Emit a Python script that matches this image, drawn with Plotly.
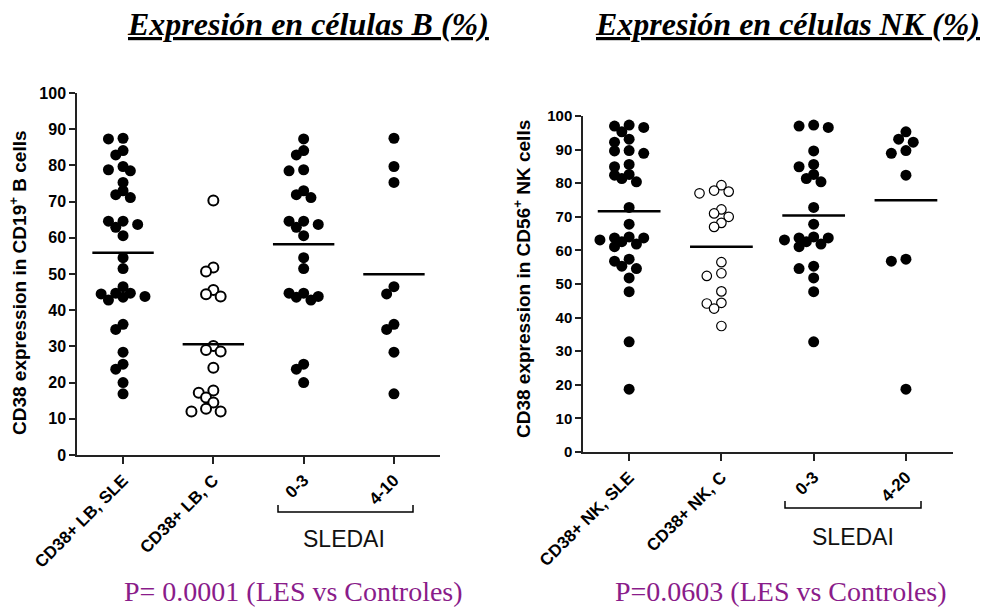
import plotly.graph_objects as go

# ---------------- data ----------------
B_CATEGORIES = ["CD38+ LB, SLE", "CD38+ LB, C", "0-3", "4-10"]
NK_CATEGORIES = ["CD38+ NK, SLE", "CD38+ NK, C", "0-3", "4-20"]
Y_TICKS = [0, 10, 20, 30, 40, 50, 60, 70, 80, 90, 100]

B_SLEDAI_LOW = [87.3, 84.1, 82.9, 78.8, 78.5, 73.0, 71.9, 71.1, 64.6, 64.6, 63.7, 62.9,
                60.6, 54.5, 51.5, 44.7, 44.7, 43.8, 43.6, 42.8, 25.1, 23.7, 20.0]
B_SLEDAI_HIGH = [87.5, 79.7, 75.3, 46.5, 44.5, 36.1, 34.7, 28.4, 16.9]
B_SLE = B_SLEDAI_LOW + B_SLEDAI_HIGH
B_CONTROL = [70.3, 51.8, 50.7, 45.6, 44.4, 43.8, 30.1, 29.0, 28.6, 24.1, 17.8, 17.2,
             15.9, 14.5, 12.8, 12.0, 12.0]

NK_SLEDAI_LOW = [97.3, 97.0, 96.6, 89.6, 85.6, 84.9, 82.6, 81.4, 80.4, 72.8, 67.8, 64.0,
                 63.7, 63.7, 63.1, 62.6, 61.9, 61.1, 55.3, 54.6, 51.8, 47.7, 32.8]
NK_SLEDAI_HIGH = [95.3, 93.1, 92.2, 89.7, 88.9, 82.4, 57.4, 56.8, 18.7]
NK_SLE = NK_SLEDAI_LOW + NK_SLEDAI_HIGH
NK_CONTROL = [79.4, 77.8, 77.5, 77.0, 72.2, 71.0, 70.0, 68.2, 67.0, 56.5, 53.2, 52.4,
              47.8, 44.4, 44.2, 42.7, 37.5]

B_GROUPS = [B_SLE, B_CONTROL, B_SLEDAI_LOW, B_SLEDAI_HIGH]
NK_GROUPS = [NK_SLE, NK_CONTROL, NK_SLEDAI_LOW, NK_SLEDAI_HIGH]
OPEN_GROUP = [False, True, False, False]

TITLE_B = "Expresión en células B (%)"
TITLE_NK = "Expresión en células NK (%)"
YTITLE_B = "CD38 expression in CD19<sup>+</sup> B cells"
YTITLE_NK = "CD38 expression in CD56<sup>+</sup> NK cells"
P_B = "P= 0.0001 (LES vs Controles)"
P_NK = "P=0.0603 (LES vs Controles)"
SLEDAI = "SLEDAI"

# ---------------- layout geometry (pixels) ----------------
W, H = 982, 610
LEFT = dict(x0=77, x1=440, ytop=93, ybot=455, xr=[-0.51, 3.51])
RIGHT = dict(x0=583, x1=953, ytop=116, ybot=452, xr=[-0.50, 3.51])
SANS = "Arial, Liberation Sans, Helvetica, sans-serif"
SERIF = "Book Antiqua, Palatino Linotype, Palatino, Liberation Serif, serif"
PURPLE = "#8a1c8a"


def px(x):
    return x / W


def py(y):
    return 1 - y / H


def swarm(vals, g, step_px=7.3, dmin=8.0):
    """Simple beeswarm: offsets (in category units) so markers do not pile up."""
    ppy = (g["ybot"] - g["ytop"]) / 100.0
    ppx = (g["x1"] - g["x0"]) / (g["xr"][1] - g["xr"][0])
    order = sorted(range(len(vals)), key=lambda i: -vals[i])
    placed = []
    res = [0.0] * len(vals)
    cands = [0] + [s * j for j in range(1, 12) for s in (-1, 1)]
    for i in order:
        yy = vals[i] * ppy
        xx = 0.0
        for c in cands:
            xx = c * step_px
            if all((xx - a) ** 2 + (yy - b) ** 2 >= dmin ** 2 for a, b in placed):
                break
        placed.append((xx, yy))
        res[i] = xx / ppx
    return res


fig = go.Figure()

panels = [(B_GROUPS, LEFT, "x", "y", 2.0, 10), (NK_GROUPS, RIGHT, "x2", "y2", 1.2, 9.5)]
for groups, g, xa, ya, open_lw, open_size in panels:
    for k, vals in enumerate(groups):
        offs = swarm(vals, g)
        xs = [k + o for o in offs]
        if OPEN_GROUP[k]:
            marker = dict(size=open_size, color="white", symbol="circle",
                          line=dict(color="black", width=open_lw))
        else:
            marker = dict(size=11, color="black", symbol="circle", line=dict(width=0))
        fig.add_trace(go.Scatter(x=xs, y=vals, mode="markers", marker=marker,
                                 xaxis=xa, yaxis=ya, showlegend=False,
                                 hoverinfo="y", cliponaxis=False))
        m = sum(vals) / len(vals)
        fig.add_trace(go.Scatter(x=[k - 0.34, k + 0.34], y=[m, m], mode="lines",
                                 line=dict(color="black", width=2.5),
                                 xaxis=xa, yaxis=ya, showlegend=False,
                                 hoverinfo="skip"))


def xaxis_cfg(g, cats, size):
    return dict(domain=[px(g["x0"]), px(g["x1"])], range=g["xr"], automargin=False,
                tickmode="array", tickvals=list(range(len(cats))), ticktext=cats,
                tickangle=-45, ticks="outside", ticklen=7, tickwidth=1.5,
                tickcolor="#222", showline=True, linecolor="#222", linewidth=1.5,
                showgrid=False, zeroline=False, fixedrange=True,
                tickfont=dict(family=SANS, size=size, color="black", weight="bold"))


def yaxis_cfg(g, size, anchor):
    return dict(domain=[py(g["ybot"]), py(g["ytop"])], range=[0, 100], automargin=False,
                tickmode="array", tickvals=Y_TICKS, ticks="outside", ticklen=6,
                tickwidth=1.5, tickcolor="#222", showline=True, linecolor="#222",
                linewidth=1.5, showgrid=False, zeroline=False, anchor=anchor,
                fixedrange=True,
                tickfont=dict(family=SANS, size=size, color="black", weight="bold"))


fig.update_layout(
    width=W, height=H, margin=dict(l=0, r=0, t=0, b=0, autoexpand=False),
    paper_bgcolor="white", plot_bgcolor="white",
    xaxis=dict(xaxis_cfg(LEFT, B_CATEGORIES, 17), anchor="y"),
    yaxis=yaxis_cfg(LEFT, 16, "x"),
    xaxis2=dict(xaxis_cfg(RIGHT, NK_CATEGORIES, 17), anchor="y2"),
    yaxis2=yaxis_cfg(RIGHT, 15, "x2"),
)

annotations = [
    dict(x=px(308), y=py(24), text="<b><i><u>" + TITLE_B + "</u></i></b>",
         font=dict(family=SERIF, size=32, color="black")),
    dict(x=px(787), y=py(24), text="<b><i><u>" + TITLE_NK + "</u></i></b>",
         font=dict(family=SERIF, size=32, color="black")),
    dict(x=px(18), y=py(283), text="<b>" + YTITLE_B + "</b>", textangle=-90,
         font=dict(family=SANS, size=19, color="black")),
    dict(x=px(522), y=py(279), text="<b>" + YTITLE_NK + "</b>", textangle=-90,
         font=dict(family=SANS, size=19, color="black")),
    dict(x=px(344), y=py(539), text=SLEDAI, font=dict(family=SANS, size=23, color="#111")),
    dict(x=px(853), y=py(537), text=SLEDAI, font=dict(family=SANS, size=23, color="#111")),
    dict(x=px(293), y=py(591), text=P_B, font=dict(family=SERIF, size=28, color=PURPLE)),
    dict(x=px(781), y=py(591), text=P_NK, font=dict(family=SERIF, size=28, color=PURPLE)),
]
for a in annotations:
    a.update(xref="paper", yref="paper", showarrow=False, xanchor="center", yanchor="middle")
fig.update_layout(annotations=annotations)


def bracket(xa, xb, ybar, ytop):
    return dict(type="path", xref="paper", yref="paper",
                path=f"M {px(xa)},{py(ytop)} L {px(xa)},{py(ybar)} L {px(xb)},{py(ybar)} L {px(xb)},{py(ytop)}",
                line=dict(color="black", width=1.5))


fig.update_layout(shapes=[bracket(278, 413, 512, 505), bracket(785, 921, 508, 501)])

fig.write_html("out.html", config={"displayModeBar": False},
               post_script="document.body.style.margin='0px';document.body.style.overflow='hidden';")
